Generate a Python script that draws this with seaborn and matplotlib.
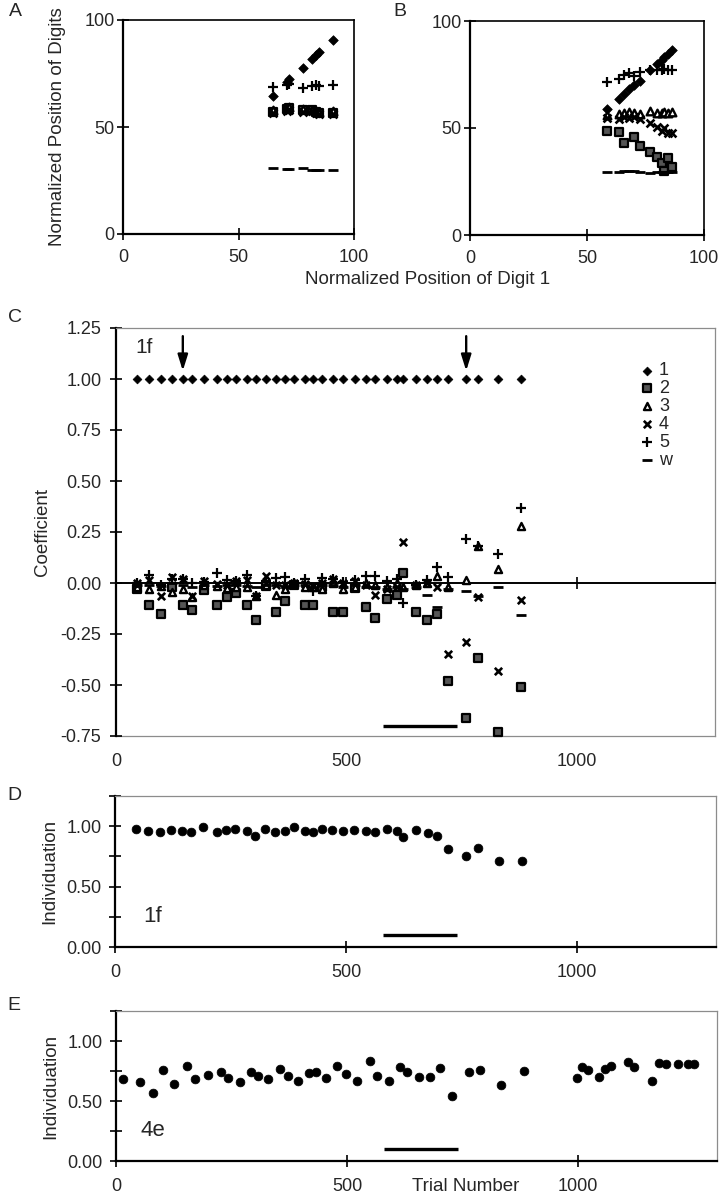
import numpy as np
import matplotlib
matplotlib.use("Agg")
import matplotlib.pyplot as plt
from matplotlib.ticker import FormatStrFormatter
import seaborn as sns

# ============================================================
# DATA
# ============================================================

digits = ["1", "2", "3", "4", "5", "w"]

# A : normalized digit positions vs digit 1 position
a_x = [65, 71, 72, 78, 82, 83.5, 85, 91]
a_vals = {
    "1": [64.5, 71, 72.5, 77.5, 82, 83.5, 85, 90.5],
    "2": [57, 58.5, 59, 58, 58, 57, 56.5, 56.5],
    "3": [58, 59, 59.5, 58.5, 58, 57.5, 57, 57.5],
    "4": [56.5, 57.5, 58, 57, 57.5, 56.5, 56, 56],
    "5": [68.5, 69.5, 70, 68, 69, 69.5, 69, 69.5],
    "w": [31, 30.5, 30.5, 31, 30, 30, 30, 30],
}

# B
b_x = [58.5, 63.5, 66, 68, 70, 72.5, 77, 80, 82, 83, 84.5, 86.5]
b_vals = {
    "1": [59, 63.5, 66, 68, 70, 72, 77, 80, 82, 83, 84.5, 86.5],
    "2": [48.5, 48, 43, np.nan, 46, 41.5, 39, 36.5, 33.5, 30, 36, 32],
    "3": [56, 56.5, 57, 57.5, 57, 56.5, 58, 57, 57, 57.5, 57, 57.5],
    "4": [54.5, 54, 55, 54.5, 55, 54, 52.5, 50.5, 48.5, 50, 47.5, 47.5],
    "5": [71.5, 73, 75, 75.5, 74.5, 76, 77, 77, 77, 77.5, 77, 77],
    "w": [29.5, 29.5, 30, 30, 30, 29.5, 29, 29.5, 29.5, 29.5, 29.5, 29.5],
}

# C / D : monkey 1f, trial by trial
trials_1f = [45, 72, 98, 122, 145, 164, 191, 220, 240, 260, 285, 303, 325, 347,
             367, 387, 410, 428, 448, 470, 493, 518, 542, 562, 588, 609, 623,
             650, 676, 697, 720, 760, 785, 830, 880]
coef_1f = {
    "1": [1.0] * 35,
    "2": [-0.03, -0.11, -0.15, -0.02, -0.11, -0.13, -0.035, -0.11, -0.07, -0.05,
          -0.11, -0.18, -0.015, -0.14, -0.09, -0.01, -0.11, -0.11, -0.02, -0.14,
          -0.14, -0.025, -0.12, -0.17, -0.08, -0.06, 0.05, -0.14, -0.18, -0.15,
          -0.48, -0.66, -0.37, -0.73, -0.51],
    "3": [-0.02, -0.03, -0.015, -0.045, -0.03, -0.07, -0.01, -0.015, -0.025, -0.02,
          -0.02, -0.065, -0.01, -0.06, -0.03, 0.0, -0.02, -0.02, -0.03, 0.0,
          -0.03, -0.02, 0.0, -0.01, -0.02, 0.0, -0.02, -0.01, 0.0, 0.035,
          -0.02, 0.015, 0.18, 0.07, 0.28],
    "4": [0.0, 0.015, -0.065, 0.03, 0.02, -0.065, 0.01, -0.005, -0.01, 0.01,
          0.016, -0.065, 0.036, -0.01, -0.01, 0.0, -0.005, -0.016, 0.0, 0.02,
          0.0, 0.01, -0.01, -0.06, -0.03, -0.02, 0.20, -0.01, 0.0, -0.02,
          -0.35, -0.29, -0.07, -0.43, -0.085],
    "5": [0.0, 0.04, -0.01, 0.02, 0.02, 0.0, 0.005, 0.05, 0.016, 0.01,
          0.04, -0.065, 0.01, 0.025, 0.03, 0.0, 0.02, -0.04, 0.025, 0.02,
          0.005, 0.015, 0.036, 0.036, 0.01, 0.02, -0.10, -0.01, 0.015, 0.08,
          0.03, 0.215, 0.18, 0.14, 0.37],
    "w": [-0.01, -0.01, -0.015, 0.0, -0.01, -0.02, -0.01, -0.015, -0.01, -0.01,
          -0.015, -0.02, -0.01, -0.01, -0.015, -0.01, -0.01, -0.02, -0.01, -0.01,
          -0.02, -0.01, -0.02, -0.02, -0.03, -0.02, -0.03, -0.02, -0.06, -0.12,
          -0.03, -0.04, -0.065, -0.02, -0.155],
}
indiv_1f = [0.98, 0.96, 0.95, 0.97, 0.96, 0.95, 0.99, 0.95, 0.97, 0.98,
            0.96, 0.92, 0.98, 0.95, 0.96, 0.99, 0.96, 0.95, 0.98, 0.97,
            0.96, 0.97, 0.96, 0.95, 0.98, 0.96, 0.91, 0.97, 0.94, 0.92,
            0.81, 0.75, 0.82, 0.71, 0.71]

# E : monkey 4e
trials_4e = [15, 52, 81, 101, 126, 153, 170, 199, 227, 243, 268, 291, 307, 329,
             354, 371, 394, 418, 433, 454, 477, 498, 522, 550, 565, 590, 614,
             630, 655, 680, 700, 726, 764, 787, 833, 883, 997, 1007, 1022,
             1045, 1058, 1070, 1108, 1120, 1160, 1175, 1190, 1215, 1238, 1250]
indiv_4e = [0.68, 0.66, 0.57, 0.755, 0.645, 0.795, 0.68, 0.72, 0.74, 0.69,
            0.655, 0.74, 0.71, 0.68, 0.77, 0.71, 0.67, 0.73, 0.745, 0.69,
            0.795, 0.725, 0.67, 0.83, 0.71, 0.67, 0.78, 0.745, 0.70, 0.70,
            0.775, 0.545, 0.74, 0.76, 0.63, 0.75, 0.69, 0.785, 0.76, 0.70,
            0.77, 0.795, 0.825, 0.785, 0.665, 0.815, 0.81, 0.81, 0.81, 0.81]

arrow_trials = [145, 760]
bar_trials = [580, 740]
trial_ticks = [0, 500, 1000]

# ============================================================
# STYLE
# ============================================================

sns.set_style("ticks")
plt.rcParams["font.family"] = ["Liberation Sans", "DejaVu Sans"]
plt.rcParams["axes.unicode_minus"] = False

STYLE = {
    "1": dict(marker="D", color="black", edgecolor="black", linewidth=0.5),
    "2": dict(marker="s", color="#555555", edgecolor="black", linewidth=1.6),
    "3": dict(marker="^", color="white", edgecolor="black", linewidth=1.7),
    "4": dict(marker="x", color="black", edgecolor="black", linewidth=1.9),
    "5": dict(marker="+", color="black", edgecolor="black", linewidth=1.6),
    "w": dict(marker="_", color="black", edgecolor="black", linewidth=2.0),
}
SIZE_AB = {"1": 24, "2": 28, "3": 30, "4": 32, "5": 48, "w": 55}
SIZE_C = {"1": 20, "2": 26, "3": 26, "4": 28, "5": 42, "w": 42}
GRAY = "#8c8c8c"
TICK_FS = 13
LABEL_FS = 13.5

fig = plt.figure(figsize=(7.26, 11.99), dpi=100)


def rect(l, t, r, b):
    return [l / 726, 1 - b / 1199, (r - l) / 726, (b - t) / 1199]


def digit_scatter(ax, x, vals, sizes):
    for d in digits:
        sns.scatterplot(x=x, y=vals[d], ax=ax, s=sizes[d], label=d,
                        legend=False, zorder=3, clip_on=False, **STYLE[d])


# ============================================================
# A / B
# ============================================================

axA = fig.add_axes(rect(123, 20, 354, 234))
axB = fig.add_axes(rect(470, 21, 704, 235))

digit_scatter(axA, a_x, a_vals, SIZE_AB)
digit_scatter(axB, b_x, b_vals, SIZE_AB)

for ax in [axA, axB]:
    ax.set_xlim(0, 100)
    ax.set_ylim(0, 100)
    ax.set_xticks([0, 50, 100])
    ax.set_yticks([0, 50, 100])
    for side in ["left", "bottom"]:
        ax.spines[side].set_linewidth(1.6)
        ax.spines[side].set_color("black")
    for side in ["top", "right"]:
        ax.spines[side].set_linewidth(1.2)
        ax.spines[side].set_color("black")
    ax.tick_params(direction="inout", length=8, width=1.2, labelsize=TICK_FS,
                   color="black")
    ax.tick_params(axis="x", pad=7)
    ax.tick_params(axis="y", pad=2)

axA.set_ylabel("Normalized Position of Digits", fontsize=LABEL_FS, va="center")
axA.yaxis.set_label_coords(-0.284, 0.5)
fig.text(428 / 726, 1 - 279 / 1199, "Normalized Position of Digit 1",
         ha="center", va="center", fontsize=LABEL_FS)

# ============================================================
# C
# ============================================================

axC = fig.add_axes(rect(116, 328, 715, 736))
digit_scatter(axC, trials_1f, coef_1f, SIZE_C)

axC.set_xlim(0, 1300)
axC.set_ylim(-0.75, 1.25)
axC.spines["bottom"].set_position(("data", 0))
axC.spines["bottom"].set_linewidth(1.4)
axC.spines["bottom"].set_color("black")
axC.spines["left"].set_linewidth(1.6)
axC.spines["left"].set_color("black")
for side in ["top", "right"]:
    axC.spines[side].set_linewidth(0.9)
    axC.spines[side].set_color(GRAY)
axC.set_xticks(trial_ticks)
axC.tick_params(axis="x", direction="inout", length=9, width=1.2,
                labelbottom=False, color="black")
axC.set_yticks(np.arange(-0.75, 1.26, 0.25))
axC.yaxis.set_major_formatter(FormatStrFormatter("%.2f"))
axC.tick_params(axis="y", direction="inout", length=9, width=1.2,
                labelsize=TICK_FS, pad=6, color="black")

secC = axC.secondary_xaxis("bottom")
secC.set_xticks(trial_ticks)
secC.tick_params(length=0, pad=12, labelsize=TICK_FS)
secC.spines["bottom"].set_color(GRAY)
secC.spines["bottom"].set_linewidth(0.9)

axC.set_ylabel("Coefficient", fontsize=LABEL_FS, va="center")
axC.yaxis.set_label_coords(-0.122, 0.5)
axC.text(0.032, 0.952, "1f", transform=axC.transAxes, fontsize=15,
         ha="left", va="center")

for t in arrow_trials:
    axC.annotate("", xy=(t, 1.04), xytext=(t, 1.21),
                 arrowprops=dict(arrowstyle="-|>,head_width=0.25,head_length=0.8",
                                 color="black", lw=1.7,
                                 mutation_scale=12, shrinkA=0, shrinkB=0))
axC.hlines(-0.70, bar_trials[0], bar_trials[1], color="black", lw=2.4)

axC.legend(loc="upper left", bbox_to_anchor=(0.872, 0.916), frameon=False,
           fontsize=13, handletextpad=0.15, labelspacing=0.05,
           handlelength=1.0, borderaxespad=0, borderpad=0)

# ============================================================
# D / E
# ============================================================

axD = fig.add_axes(rect(115, 796, 716, 947))
axE = fig.add_axes(rect(116, 1011, 717, 1161))

sns.scatterplot(x=trials_1f, y=indiv_1f, ax=axD, s=40, color="black",
                edgecolor="black", linewidth=0.5, zorder=3, clip_on=False)
sns.scatterplot(x=trials_4e, y=indiv_4e, ax=axE, s=40, color="black",
                edgecolor="black", linewidth=0.5, zorder=3, clip_on=False)

for ax, tag in [(axD, "1f"), (axE, "4e")]:
    ax.set_xlim(0, 1300)
    ax.set_ylim(0, 1.25)
    ax.set_xticks(trial_ticks)
    ax.set_yticks([0, 0.5, 1.0])
    ax.set_yticks([0.25, 0.75, 1.25], minor=True)
    ax.yaxis.set_major_formatter(FormatStrFormatter("%.2f"))
    for side in ["left", "bottom"]:
        ax.spines[side].set_linewidth(1.6)
        ax.spines[side].set_color("black")
    for side in ["top", "right"]:
        ax.spines[side].set_linewidth(0.9)
        ax.spines[side].set_color(GRAY)
    ax.tick_params(which="both", direction="inout", length=9, width=1.2,
                   color="black")
    ax.tick_params(axis="y", labelsize=TICK_FS, pad=5)
    ax.tick_params(axis="x", labelsize=TICK_FS, pad=8)
    ax.set_ylabel("Individuation", fontsize=LABEL_FS, va="center")
    ax.yaxis.set_label_coords(-0.109, 0.5)
    ax.text(0.062, 0.2, tag, transform=ax.transAxes, fontsize=16,
            ha="center", va="center")
    ax.hlines(0.10, bar_trials[0], bar_trials[1], color="black", lw=2.4)

axE.set_xlabel("Trial Number", fontsize=LABEL_FS, va="center")
axE.xaxis.set_label_coords(0.582, -0.173)

# panel letters
for letter, (px, py) in {"A": (15, 11), "B": (400, 12), "C": (15, 318),
                         "D": (14, 796), "E": (14, 1006)}.items():
    fig.text(px / 726, 1 - py / 1199, letter, ha="center", va="center",
             fontsize=14)

plt.savefig("out.png", dpi=100)
